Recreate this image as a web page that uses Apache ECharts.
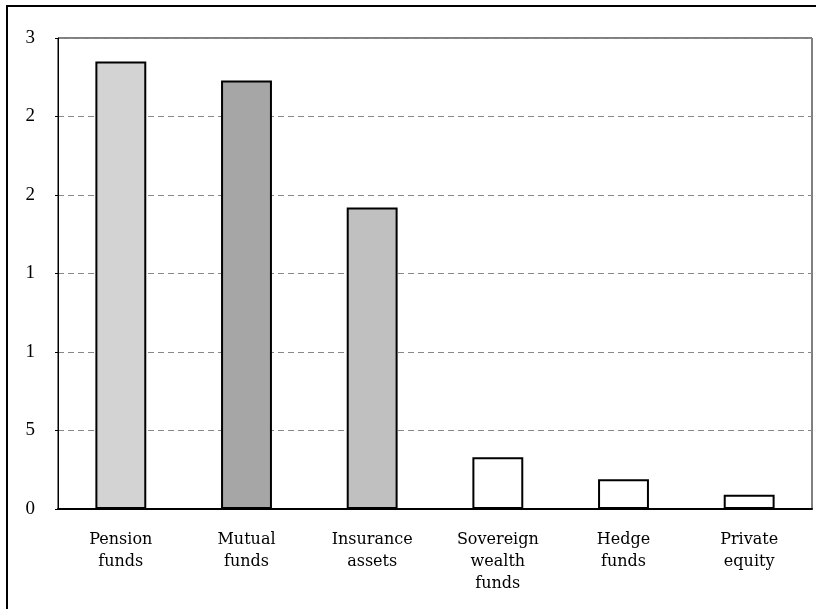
<!DOCTYPE html>
<html>
<head>
<meta charset="utf-8">
<script src="https://cdn.jsdelivr.net/npm/echarts@6/dist/echarts.min.js"></script>
<style>html,body{margin:0;padding:0;background:#fff;}#c{width:816px;height:609px;}</style>
</head>
<body>
<div id="c"></div>
<script>
const categories = ["Pension\nfunds", "Mutual\nfunds", "Insurance\nassets", "Sovereign\nwealth\nfunds", "Hedge\nfunds", "Private\nequity"];
const values = [28.5, 27.3, 19.2, 3.3, 1.9, 0.9];
const barFills = ["#d3d3d3", "#a6a6a6", "#c0c0c0", "#ffffff", "#ffffff", "#ffffff"];
const tickValues = [0, 5, 10, 15, 20, 25, 30];
const tickLabels = ["0", "5", "1", "1", "2", "2", "3"];

const chart = echarts.init(document.getElementById('c'), null, {renderer: 'canvas'});
const serif = '"Liberation Serif", "Times New Roman", serif';
const wideSerif = '"DejaVu Serif", serif';
chart.setOption({
  animation: false,
  backgroundColor: '#fff',
  graphic: [{
    type: 'rect', silent: true, z: 100,
    shape: {x: 7, y: 6, width: 900, height: 900},
    style: {fill: 'none', stroke: '#000', lineWidth: 2}
  }],
  grid: {left: 58, right: 4, top: 38, bottom: 100, show: true, borderColor: '#000', borderWidth: 1},
  xAxis: {
    type: 'category',
    data: categories,
    axisLine: {lineStyle: {color: '#000', width: 2}},
    axisTick: {show: false},
    axisLabel: {color: '#000', fontFamily: wideSerif, fontSize: 16, lineHeight: 22, margin: 20, interval: 0}
  },
  yAxis: {
    type: 'value', min: 0, max: 30, interval: 5,
    axisLine: {show: true, lineStyle: {color: '#000', width: 1}},
    axisTick: {show: true, length: 3, lineStyle: {color: '#000'}},
    splitLine: {show: true, lineStyle: {color: '#888', width: 1, type: [6, 4]}},
    axisLabel: {
      color: '#000', fontFamily: serif, fontSize: 19, margin: 23,
      formatter: function (v) { const i = tickValues.indexOf(v); return i >= 0 ? tickLabels[i] : ''; }
    }
  },
  series: [{
    type: 'bar',
    barWidth: '40.5%',
    data: values.map((v, i) => ({value: v, itemStyle: {color: barFills[i]}})),
    itemStyle: {borderColor: '#000', borderWidth: 2}
  }]
});
</script>
</body>
</html>
